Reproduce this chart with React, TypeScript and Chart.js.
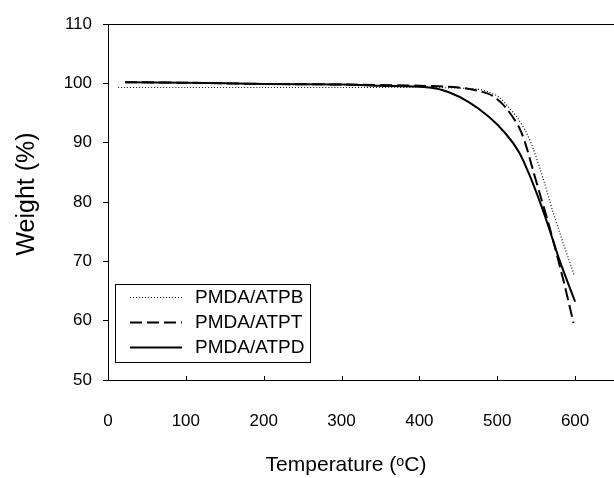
import React, { useEffect, useRef } from "react";
import { Chart, registerables } from "chart.js";

Chart.register(...registerables);

const seriesLabels = ["PMDA/ATPB", "PMDA/ATPT", "PMDA/ATPD"];
const xTitle = "Temperature (ᵒC)";
const yTitle = "Weight (%)";

const atpbTemp = [13, 100, 200, 300, 400, 450, 475, 490, 503, 515, 527, 537, 547, 560, 571, 585, 599];
const atpbWeight = [99.3, 99.3, 99.3, 99.3, 99.3, 99.2, 99.0, 98.5, 97.6, 95.9, 94.0, 91.8, 88.7, 83.5, 78.6, 73.0, 67.6];

const atptTemp = [22, 100, 200, 300, 400, 450, 477, 494, 511, 528, 537, 545, 556, 565, 574, 585, 598];
const atptWeight = [100.2, 100.1, 99.9, 99.8, 99.6, 99.3, 98.7, 97.9, 95.9, 92.6, 89.5, 85.8, 80.8, 76.8, 72.4, 66.8, 59.6];

const atpdTemp = [22, 100, 200, 300, 349, 413, 438, 464, 490, 511, 528, 541, 554, 566, 580, 600];
const atpdWeight = [100.2, 100.1, 99.9, 99.8, 99.6, 99.3, 98.5, 96.8, 94.3, 91.5, 88.4, 84.7, 80.3, 75.8, 70.2, 63.2];

const xTicks = [0, 100, 200, 300, 400, 500, 600];
const yTicks = [50, 60, 70, 80, 90, 100, 110];

const FONT = "'Liberation Sans', Arial, sans-serif";

const toPoints = (xs: number[], ys: number[]) => xs.map((x, i) => ({ x, y: ys[i] }));

const framePlugin = {
  id: "framePlugin",
  afterDraw(chart: any) {
    const { ctx, chartArea, scales } = chart;
    ctx.save();
    ctx.strokeStyle = "#000";
    ctx.lineWidth = 1;
    // top border
    ctx.beginPath();
    ctx.moveTo(chartArea.left, Math.round(chartArea.top) + 0.5);
    ctx.lineTo(chartArea.right, Math.round(chartArea.top) + 0.5);
    ctx.stroke();
    // inward x ticks
    const xs = scales.x;
    xTicks.forEach((v) => {
      if (v === 0) return;
      const px = Math.round(xs.getPixelForValue(v)) + 0.5;
      ctx.beginPath();
      ctx.moveTo(px, chartArea.bottom);
      ctx.lineTo(px, chartArea.bottom - 4);
      ctx.stroke();
    });
    // axis titles
    ctx.fillStyle = "#000";
    ctx.textAlign = "center";
    ctx.textBaseline = "middle";
    ctx.font = `21px ${FONT}`;
    ctx.fillText(xTitle, 346, 465);
    ctx.save();
    ctx.translate(27, 194);
    ctx.rotate(-Math.PI / 2);
    ctx.font = `25px ${FONT}`;
    ctx.fillText(yTitle, 0, 0);
    ctx.restore();
    // legend box
    const bx = 115.5, by = 284.5, bw = 195, bh = 78;
    ctx.fillStyle = "#fff";
    ctx.fillRect(bx, by, bw, bh);
    ctx.strokeRect(bx, by, bw, bh);
    const rows = [297, 322, 347];
    chart.data.datasets.forEach((ds: any, i: number) => {
      const y = rows[i] + 0.5;
      ctx.save();
      ctx.strokeStyle = ds.borderColor;
      ctx.lineWidth = ds.borderWidth;
      ctx.setLineDash(ds.borderDash || []);
      ctx.beginPath();
      ctx.moveTo(130, y);
      ctx.lineTo(182, y);
      ctx.stroke();
      ctx.restore();
      ctx.fillStyle = "#000";
      ctx.font = `19px ${FONT}`;
      ctx.textBaseline = "middle";
      ctx.textAlign = "left";
      ctx.fillText(ds.label, 195, rows[i] + 1);
    });
    ctx.restore();
  },
};

export default function App() {
  const ref = useRef<HTMLCanvasElement | null>(null);
  useEffect(() => {
    if (!ref.current) return;
    const chart = new Chart(ref.current, {
      type: "line",
      data: {
        datasets: [
          {
            label: seriesLabels[0],
            data: toPoints(atpbTemp, atpbWeight),
            borderColor: "#111",
            borderWidth: 1.2,
            borderDash: [1, 2],
            pointRadius: 0,
            tension: 0.3,
            fill: false,
          },
          {
            label: seriesLabels[1],
            data: toPoints(atptTemp, atptWeight),
            borderColor: "#000",
            borderWidth: 2,
            borderDash: [12, 5],
            pointRadius: 0,
            tension: 0.3,
            fill: false,
          },
          {
            label: seriesLabels[2],
            data: toPoints(atpdTemp, atpdWeight),
            borderColor: "#000",
            borderWidth: 2,
            pointRadius: 0,
            tension: 0.3,
            fill: false,
          },
        ],
      },
      options: {
        animation: false,
        responsive: false,
        maintainAspectRatio: false,
        layout: { padding: { top: 24, right: 0, left: 0, bottom: 0 } },
        plugins: { legend: { display: false }, tooltip: { enabled: false } },
        scales: {
          x: {
            type: "linear",
            min: 0,
            max: 650,
            afterBuildTicks: (scale: any) => {
              scale.ticks = xTicks.map((v) => ({ value: v }));
            },
            afterFit: (scale: any) => {
              scale.height = 98;
            },
            grid: {
              display: true,
              drawOnChartArea: false,
              drawTicks: true,
              tickLength: 27,
              tickColor: "rgba(0,0,0,0)",
              color: "rgba(0,0,0,0)",
            },
            border: { display: true, color: "#000", width: 1 },
            ticks: {
              color: "#000",
              font: { family: FONT, size: 17 },
              padding: 4,
              maxRotation: 0,
            },
            title: { display: false },
          },
          y: {
            type: "linear",
            min: 50,
            max: 110,
            afterBuildTicks: (scale: any) => {
              scale.ticks = yTicks.map((v) => ({ value: v }));
            },
            afterFit: (scale: any) => {
              scale.width = 108;
            },
            grid: { drawOnChartArea: false, drawTicks: true, tickLength: 5, color: "#000" },
            border: { display: true, color: "#000", width: 1 },
            ticks: {
              color: "#000",
              font: { family: FONT, size: 17 },
              padding: 11,
            },
            title: { display: false },
          },
        },
      },
      plugins: [framePlugin],
    } as any);
    return () => chart.destroy();
  }, []);
  return (
    <div style={{ position: "absolute", left: 0, top: 0, width: 614, height: 478, background: "#fff" }}>
      <canvas ref={ref} width={614} height={478} style={{ display: "block", width: 614, height: 478 }} />
    </div>
  );
}
